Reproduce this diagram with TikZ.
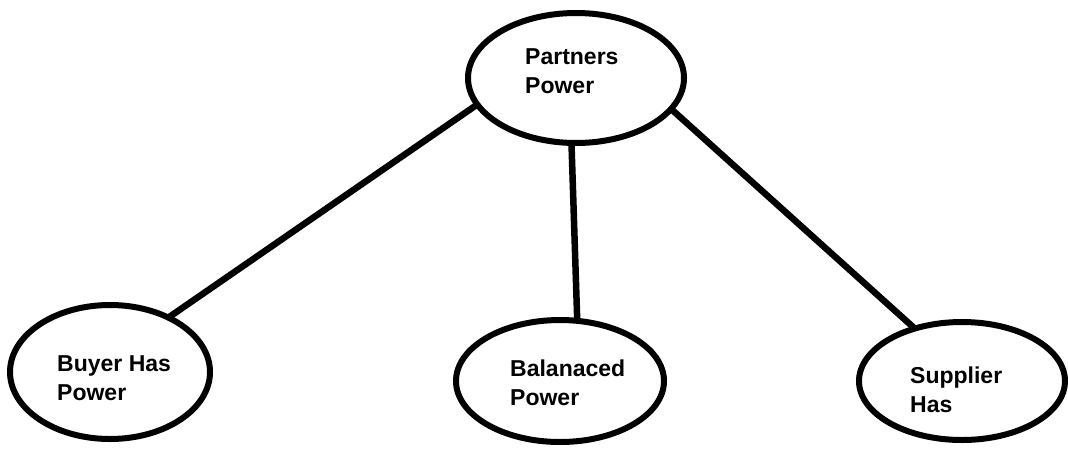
\documentclass[tikz,border=0pt]{standalone}
\usepackage{fontspec}
\setmainfont{Liberation Sans}
\usetikzlibrary{shapes.geometric}

\tikzset{
  bubble/.style={draw=black, line width=6pt, ellipse, inner sep=0pt, outer sep=0pt, fill=white},
  % the base anchor of a two-line caption sits on its last line
  caption/.style={anchor=base west, inner sep=0pt, align=left, text=black,
                  font=\fontsize{23}{28.5}\selectfont\bfseries},
  link/.style={draw=black, line width=6.5pt}
}

\begin{document}
\begin{tikzpicture}[x=1pt, y=-1pt]
  % canvas
  \fill[white] (0,0) rectangle (1068,448);
  \useasboundingbox (0,0) rectangle (1068,448);

  % ellipses
  \node[bubble, minimum width=216pt, minimum height=130pt] (partners) at (576,78) {};
  \node[bubble, minimum width=200pt, minimum height=134pt] (buyer)    at (110,372) {};
  \node[bubble, minimum width=208pt, minimum height=122pt] (balanced) at (560,381) {};
  \node[bubble, minimum width=206pt, minimum height=118pt] (supplier) at (962,381) {};

  % connectors
  \draw[link] (partners.195.7) -- (buyer.43.1);
  \draw[link] (partners.266.7) -- (balanced.74.9);
  \draw[link] (partners.342.1) -- (supplier.132.3);

  % labels
  \node[caption] (tpartners) at (525,93)  {Partners\\Power};
  \node[caption] (tbuyer)    at (57,400)  {Buyer Has\\Power};
  \node[caption] (tbalanced) at (510,405) {Balanaced\\Power};
  \node[caption] (tsupplier) at (910,412) {Supplier\\Has};
\end{tikzpicture}
\end{document}
